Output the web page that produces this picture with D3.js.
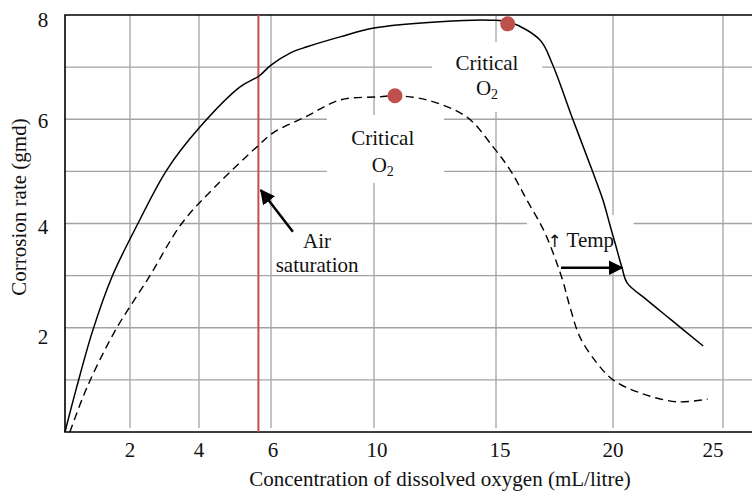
<!DOCTYPE html>
<html>
<head>
<meta charset="utf-8">
<script src="https://cdn.jsdelivr.net/npm/d3@7"></script>
<style>
  body { margin: 0; background: #fff; }
  text { font-family: "Liberation Serif", "Times New Roman", serif; fill: #111; }
</style>
</head>
<body>
<svg id="chart"></svg>
<script>
// data (x = dissolved O2 mL/litre, y = corrosion rate gmd)
const xTicks = [2, 4, 6, 10, 15, 20, 25];
const yTicks = [2, 4, 6, 8];
const yGrid = [1, 2, 3, 4, 5, 6, 7];
const airSaturation = 5.65;

const lowTemp = [
  [0.15, 0], [0.68, 0.86], [1.54, 1.94], [2.55, 2.97], [3.51, 4.01], [4.44, 4.7],
  [5.67, 5.51], [6.08, 5.74], [7.4, 6.06], [8.68, 6.37], [10.25, 6.43], [10.86, 6.45],
  [12.17, 6.37], [13.81, 6.04], [14.88, 5.47], [15.6, 5.03], [16.32, 4.45], [17.09, 3.82],
  [17.82, 2.95], [18.16, 2.4], [18.59, 1.82], [19.32, 1.32], [20.0, 1.0],
  [21.23, 0.75], [22.9, 0.58], [24.3, 0.63]
];
const highTemp = [
  [0, 0], [0.36, 0.86], [0.85, 1.94], [1.44, 2.97], [2.23, 4.0], [3.07, 5.03],
  [4.0, 5.83], [5.14, 6.62], [5.67, 6.83], [6.0, 7.04], [6.74, 7.27],
  [7.4, 7.39], [8.68, 7.58], [10, 7.75], [12.7, 7.87], [14.75, 7.9], [15.6, 7.86],
  [16.88, 7.52], [17.39, 7.08], [18.25, 6.04], [19.1, 5.03], [19.57, 4.45], [19.87, 3.97],
  [20.09, 3.63], [20.41, 3.15], [20.64, 2.86], [21.55, 2.53],
  [22.59, 2.17], [24.1, 1.65]
];
const criticalPoints = [[10.86, 6.45], [15.5, 7.83]];

const W = 752, H = 492;
const svg = d3.select('#chart').attr('width', W).attr('height', H);

// the printed x axis is not evenly spaced, so piecewise scale
const x = d3.scaleLinear()
  .domain([0, 2, 4, 6, 10, 15, 20, 25])
  .range([65, 130, 199, 271, 374, 496, 613, 723]);
const y = d3.scaleLinear().domain([0, 8]).range([432, 15]);

// grid
svg.append('g').selectAll('line').data(xTicks).enter().append('line')
  .attr('x1', d => x(d)).attr('x2', d => x(d))
  .attr('y1', y(8)).attr('y2', y(0) - 4)
  .attr('stroke', '#a3a3a3').attr('stroke-width', 1.3);
svg.append('g').selectAll('line').data(yGrid).enter().append('line')
  .attr('x1', x(0)).attr('x2', W)
  .attr('y1', d => y(d)).attr('y2', d => y(d))
  .attr('stroke', '#a3a3a3').attr('stroke-width', 1.3);

// white boxes behind labels
const boxes = [
  { x0: 12.38, x1: 16.97, y0: 7.48, y1: 6.14 },
  { x0: 8.17, x1: 12.87, y0: 6.08, y1: 4.78 },
  { x0: 16.32, x1: 20.94, y0: 4.16, y1: 3.07 }
];
svg.append('g').selectAll('rect').data(boxes).enter().append('rect')
  .attr('x', d => x(d.x0)).attr('y', d => y(d.y0))
  .attr('width', d => x(d.x1) - x(d.x0)).attr('height', d => y(d.y1) - y(d.y0))
  .attr('fill', '#fff');

// frame: left, bottom, top
svg.append('path')
  .attr('d', `M${W},${y(8)}H${x(0)}V${y(0)}H${W}`)
  .attr('fill', 'none').attr('stroke', '#000').attr('stroke-width', 1.6);

// air saturation line
svg.append('line')
  .attr('x1', x(airSaturation)).attr('x2', x(airSaturation))
  .attr('y1', y(8)).attr('y2', y(0))
  .attr('stroke', '#c0504d').attr('stroke-width', 2);

// curves
const line = d3.line().x(d => x(d[0])).y(d => y(d[1])).curve(d3.curveCatmullRom.alpha(0.5));
svg.append('path').datum(lowTemp).attr('d', line)
  .attr('fill', 'none').attr('stroke', '#000').attr('stroke-width', 1.4)
  .attr('stroke-dasharray', '8,5');
svg.append('path').datum(highTemp).attr('d', line)
  .attr('fill', 'none').attr('stroke', '#000').attr('stroke-width', 1.5);

svg.selectAll('.crit').data(criticalPoints).enter().append('circle')
  .attr('class', 'crit')
  .attr('cx', d => x(d[0])).attr('cy', d => y(d[1])).attr('r', 7.5)
  .attr('fill', '#c0504d');

// tick labels (the printed labels sit a little off their grid lines)
const xNudge = { 6: 2, 10: 3, 15: 4, 25: -10 };
const yNudge = { 8: 12, 6: 9, 4: 10, 2: 16 };
svg.append('g').selectAll('text').data(xTicks).enter().append('text')
  .attr('x', d => x(d) + (xNudge[d] || 0)).attr('y', 457)
  .attr('text-anchor', 'middle').attr('font-size', 21)
  .text(d => d);
svg.append('g').selectAll('text').data(yTicks).enter().append('text')
  .attr('x', 43).attr('y', d => y(d) + yNudge[d])
  .attr('text-anchor', 'middle').attr('font-size', 21)
  .text(d => d);

// axis titles
svg.append('text')
  .attr('x', 440).attr('y', 486)
  .attr('text-anchor', 'middle').attr('font-size', 21)
  .text('Concentration of dissolved oxygen (mL/litre)');
svg.append('text')
  .attr('transform', 'translate(26,207) rotate(-90)')
  .attr('text-anchor', 'middle').attr('font-size', 21)
  .text('Corrosion rate (gmd)');

// arrows
const defs = svg.append('defs');
defs.append('marker').attr('id', 'head')
  .attr('viewBox', '0 0 10 10').attr('refX', 9).attr('refY', 5)
  .attr('markerWidth', 6).attr('markerHeight', 6)
  .attr('markerUnits', 'strokeWidth').attr('orient', 'auto')
  .append('path').attr('d', 'M0,0L10,5L0,10Z').attr('fill', '#000');

const arrows = [
  { from: [6.85, 3.84], to: [5.72, 4.64] },
  { from: [17.78, 3.15], to: [20.41, 3.15] }
];
svg.selectAll('.arrow').data(arrows).enter().append('line')
  .attr('class', 'arrow')
  .attr('x1', d => x(d.from[0])).attr('y1', d => y(d.from[1]))
  .attr('x2', d => x(d.to[0])).attr('y2', d => y(d.to[1]))
  .attr('stroke', '#000').attr('stroke-width', 2.5)
  .attr('marker-end', 'url(#head)');

// annotation text
function critical(cx, v1, v2) {
  svg.append('text').attr('x', x(cx)).attr('y', y(v1))
    .attr('text-anchor', 'middle').attr('font-size', 21).text('Critical');
  const t = svg.append('text').attr('x', x(cx)).attr('y', y(v2))
    .attr('text-anchor', 'middle').attr('font-size', 21);
  t.append('tspan').text('O');
  t.append('tspan').attr('font-size', 14).attr('dy', 4).text('2');
}
critical(14.63, 6.95, 6.47);
critical(10.36, 5.51, 4.99);

svg.append('text').attr('x', x(7.79)).attr('y', y(3.53))
  .attr('text-anchor', 'middle').attr('font-size', 21).text('Air');
svg.append('text').attr('x', x(7.79)).attr('y', y(3.07))
  .attr('text-anchor', 'middle').attr('font-size', 21).text('saturation');
const temp = svg.append('text').attr('x', x(17.2)).attr('y', y(3.55)).attr('font-size', 21);
temp.append('tspan').attr('font-family', 'DejaVu Sans').attr('font-size', 17).text('\u2191');
temp.append('tspan').text(' Temp');
</script>
</body>
</html>
